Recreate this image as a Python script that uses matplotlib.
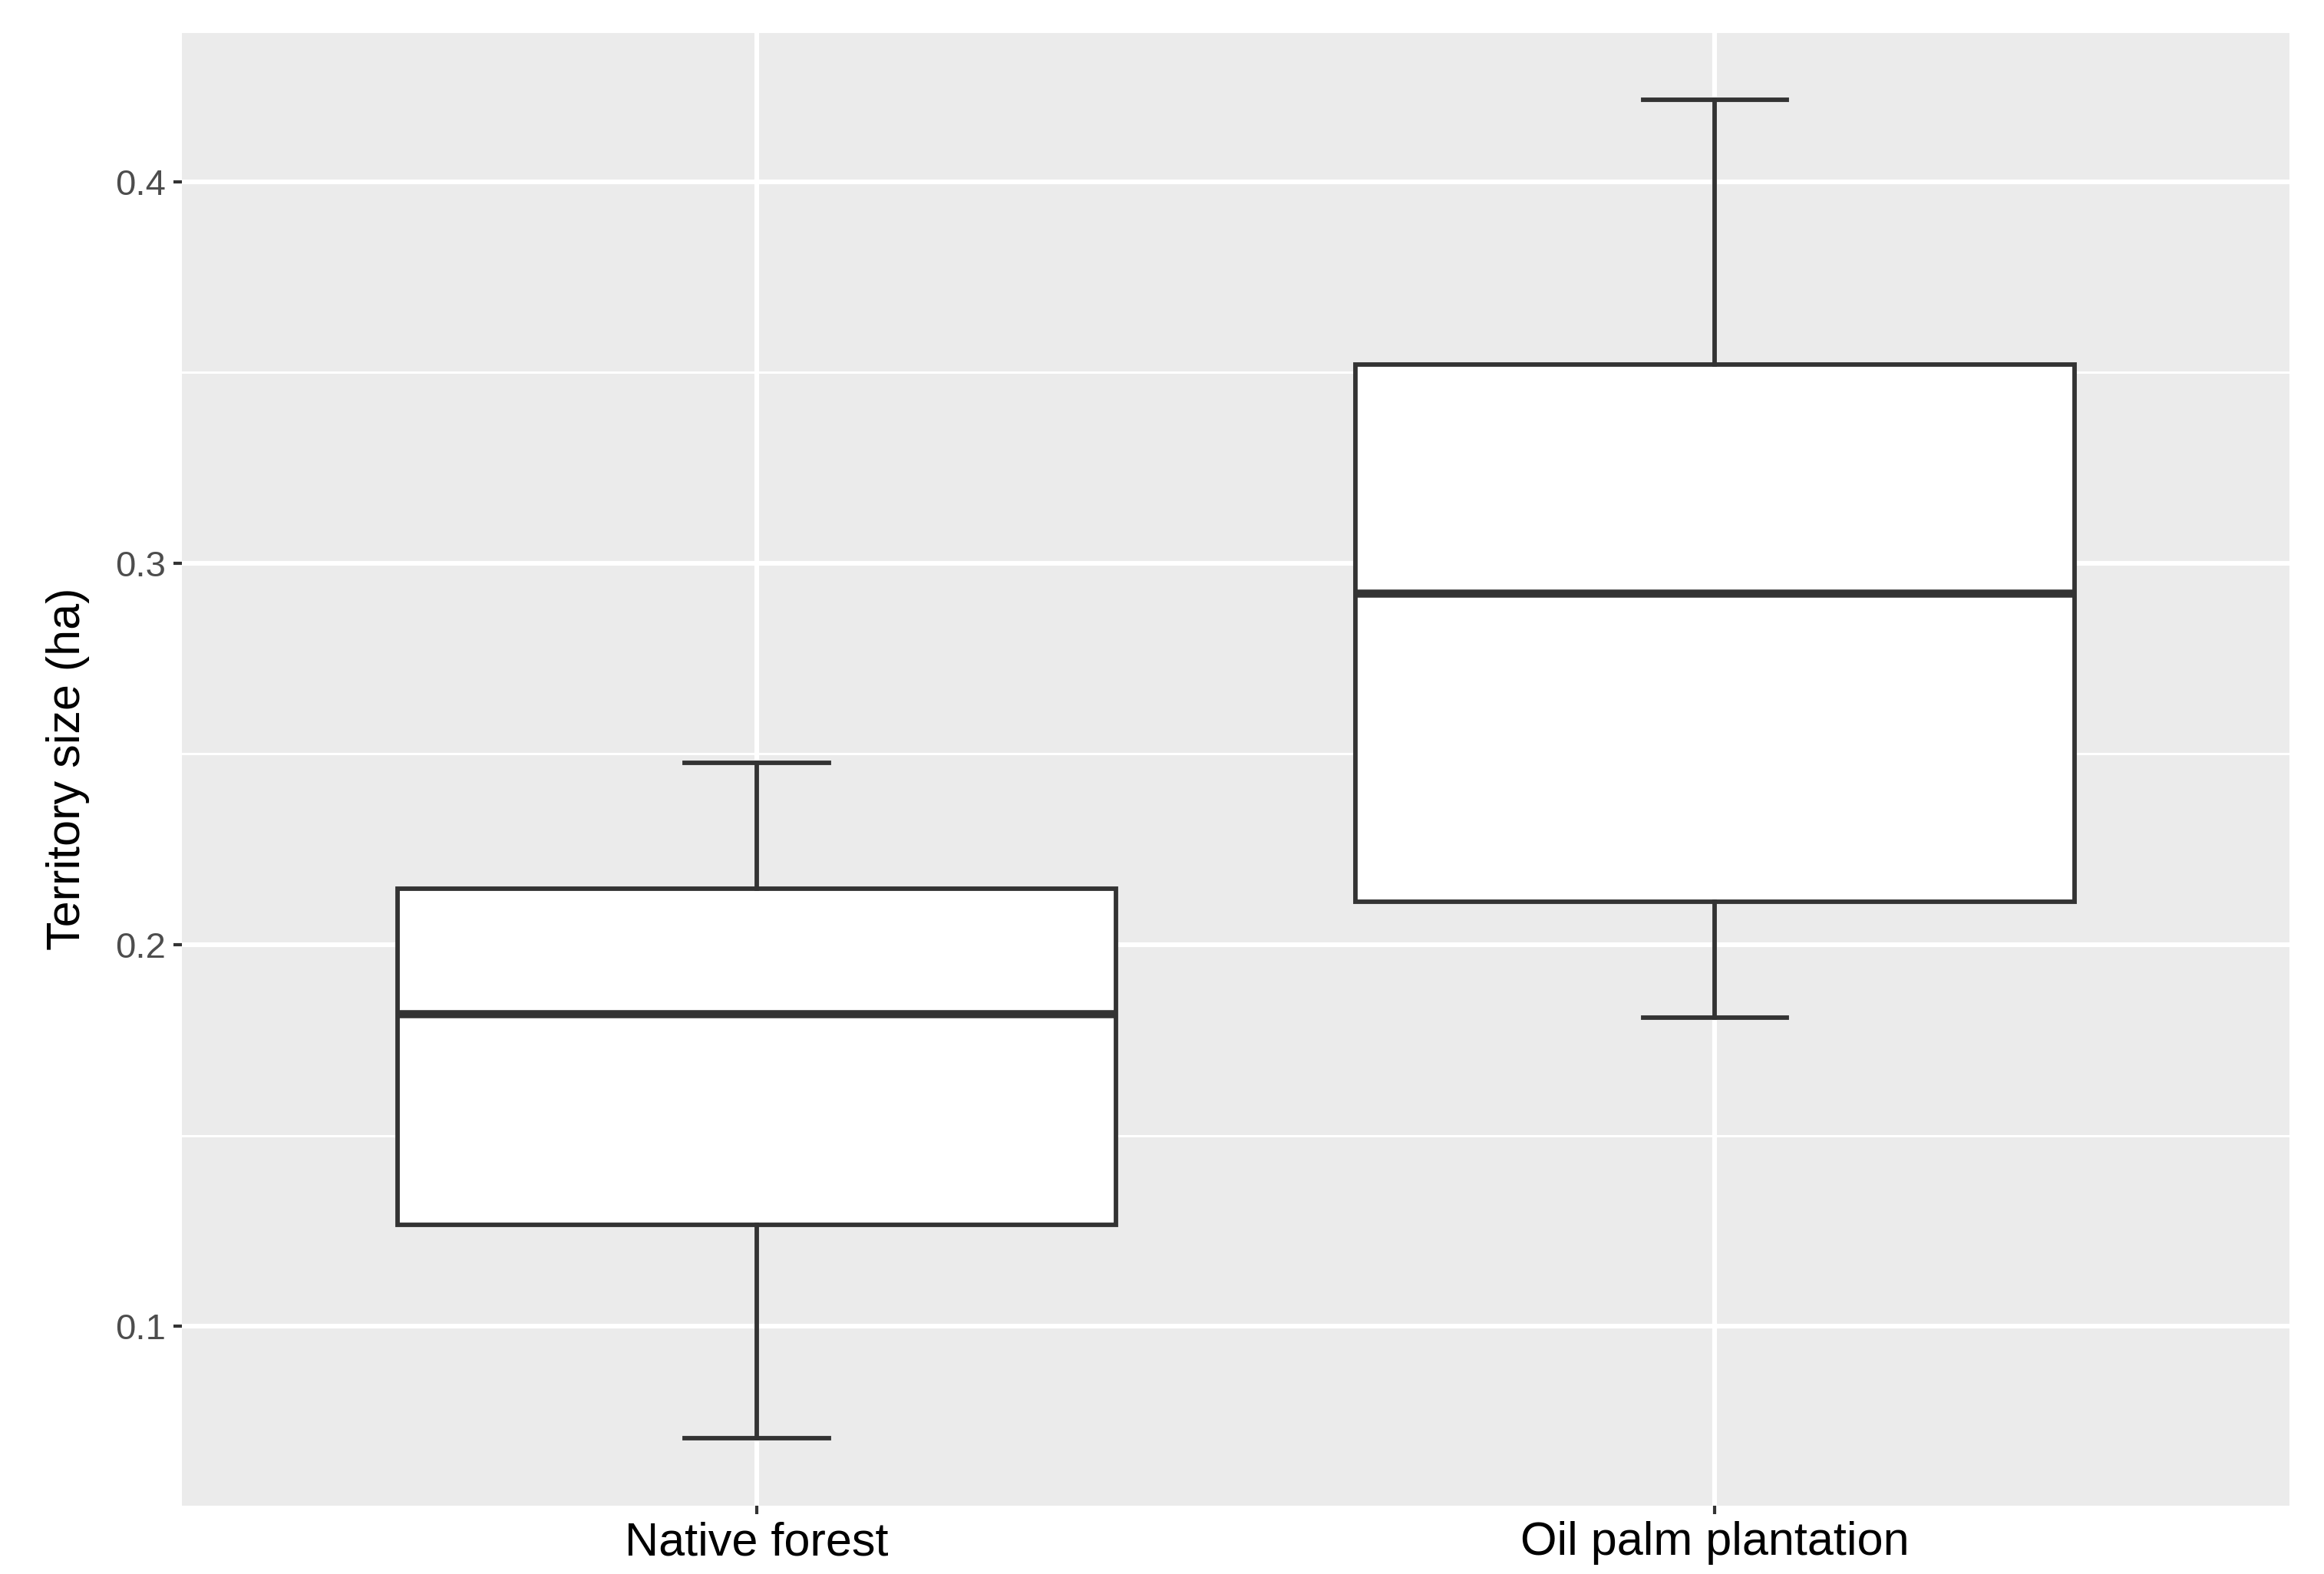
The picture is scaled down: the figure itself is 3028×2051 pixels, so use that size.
import matplotlib
matplotlib.use("Agg")
import matplotlib.pyplot as plt

categories = ["Native forest", "Oil palm plantation"]
whislo = [0.0707, 0.1809]
q1 = [0.1266, 0.2113]
med = [0.182, 0.2922]
q3 = [0.2148, 0.352]
whishi = [0.2477, 0.4215]
yticks = [0.1, 0.2, 0.3, 0.4]
yminor = [0.15, 0.25, 0.35]

plt.rcParams['font.family'] = ['Liberation Sans', 'DejaVu Sans']
fig = plt.figure(figsize=(15.14, 10.255), dpi=200)
ax = fig.add_axes([0.0782, 0.0436, 0.9071, 0.9356])
ax.set_facecolor("#EBEBEB")
for s in ax.spines.values():
    s.set_visible(False)

stats = [dict(label=c, whislo=a, q1=b, med=m, q3=d, whishi=e, fliers=[])
         for c, a, b, m, d, e in zip(categories, whislo, q1, med, q3, whishi)]
col = "#333333"
ax.bxp(stats, positions=[1, 2], widths=0.75, patch_artist=True, showfliers=False,
       boxprops=dict(facecolor="white", edgecolor=col, linewidth=2.1),
       medianprops=dict(color=col, linewidth=3.8),
       whiskerprops=dict(color=col, linewidth=2.1),
       capprops=dict(color=col, linewidth=2.1),
       capwidths=0.15, zorder=3)

ax.set_xlim(0.4, 2.6)
ax.set_ylim(0.0531, 0.439)
ax.set_yticks(yticks)
ax.set_yticklabels([f"{v:.1f}" for v in yticks])
ax.set_yticks(yminor, minor=True)
ax.set_xticks([1, 2])
ax.set_xticklabels(categories)
ax.grid(True, which="major", color="white", linewidth=2.2, zorder=0)
ax.grid(True, which="minor", axis="y", color="white", linewidth=1.1, zorder=0)
ax.set_axisbelow(True)
ax.tick_params(axis="y", which="major", labelsize=17, colors="#333333", length=4, width=1.5, labelcolor="#4D4D4D")
ax.tick_params(axis="y", which="minor", length=0)
ax.tick_params(axis="x", labelsize=22, colors="#333333", length=4, width=1.5, labelcolor="black")
ax.set_ylabel("Territory size (ha)", fontsize=22, labelpad=12)

fig.savefig("out.png", dpi=200)
